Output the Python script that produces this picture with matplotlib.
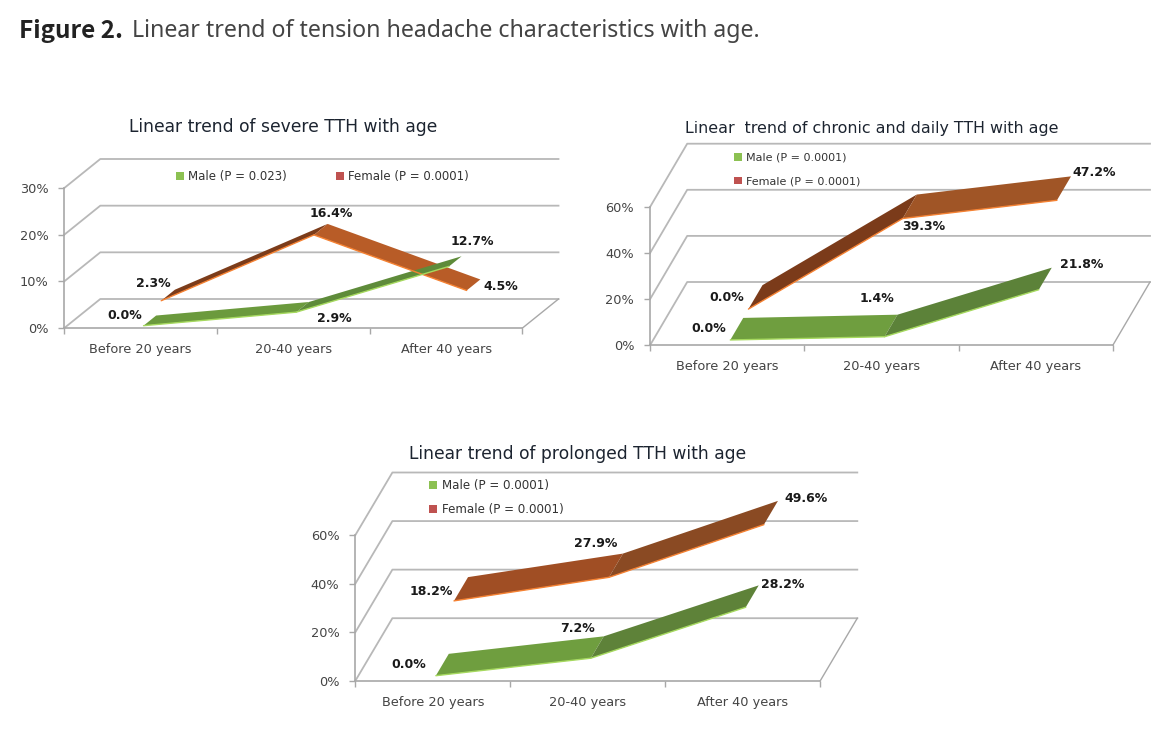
import matplotlib.pyplot as plt
from matplotlib.patches import Patch, Polygon

plt.rcParams["font.family"] = ["DejaVu Sans"]

W, H = 1172, 741

categories = ["Before 20 years", "20-40 years", "After 40 years"]

severe_male = [0.0, 2.9, 12.7]
severe_female = [2.3, 16.4, 4.5]
chronic_male = [0.0, 1.4, 21.8]
chronic_female = [0.0, 39.3, 47.2]
prolonged_male = [0.0, 7.2, 28.2]
prolonged_female = [18.2, 27.9, 49.6]

severe_ticks = [0, 10, 20, 30]
other_ticks = [0, 20, 40, 60]

GRID = "#b8b8b8"
MALE_EDGE = "#a6d95f"
FEMALE_EDGE = "#f58233"
MALE_SWATCH = "#8cc152"
FEMALE_SWATCH = "#bf5250"

# 各子图的布局（像素）：left, right, bottom, top, 进深 dx, dy
panels = [
    {
        "title": "Linear trend of severe TTH with age",
        "title_xy": (282.7, 127),
        "title_size": 12.35,
        "box": (64.3, 522.5, 328, 188),
        "depth": (36, 29),
        "ticks": severe_ticks,
        "male": severe_male,
        "female": severe_female,
        "male_colors": ["#6b9a3d", "#5e8b3a"],
        "female_colors": ["#7c3c1a", "#b85c27"],
        "male_off": [(-15.7, 12.3), (40.6, -4.5), (25.9, 27.7)],
        "female_off": [(12.3, 33.3), (37.6, 37.5), (54.6, 20.3)],
        "legend_labels": ["Male (P = 0.023)", "Female (P = 0.0001)"],
        "legend_xy": (176, 170),
        "legend_size": 8.5,
        "legend_gap": 1.0,
        "ncol": 2,
    },
    {
        "title": "Linear  trend of chronic and daily TTH with age",
        "title_xy": (872, 128),
        "title_size": 11.45,
        "box": (650.2, 1113, 345, 206.7),
        "depth": (37, 63),
        "ticks": other_ticks,
        "male": chronic_male,
        "female": chronic_female,
        "male_colors": ["#6f9e3f", "#5c8239"],
        "female_colors": ["#7b3b1a", "#a05526"],
        "male_off": [(-18.3, 17), (-5.1, 43.1), (45.8, 30.1)],
        "female_off": [(-0.9, 47.3), (42.3, 28.4), (58, 63.9)],
        "legend_labels": ["Male (P = 0.0001)", "Female (P = 0.0001)"],
        "legend_xy": (734, 152.5),
        "legend_size": 8.0,
        "legend_gap": 1.25,
        "ncol": 1,
    },
    {
        "title": "Linear trend of prolonged TTH with age",
        "title_xy": (577.7, 454),
        "title_size": 12.3,
        "box": (355.4, 820.3, 680.7, 535),
        "depth": (37, 62.5),
        "ticks": other_ticks,
        "male": prolonged_male,
        "female": prolonged_female,
        "male_colors": ["#6f9e3f", "#5e8239"],
        "female_colors": ["#a04e24", "#8a4a23"],
        "male_off": [(-23.9, 16), (-10, 35.2), (39.8, 27.9)],
        "female_off": [(-1.2, 44.8), (8.1, 69.7), (63.7, 61.3)],
        "legend_labels": ["Male (P = 0.0001)", "Female (P = 0.0001)"],
        "legend_xy": (429, 479),
        "legend_size": 8.6,
        "legend_gap": 0.93,
        "ncol": 1,
    },
]

fig = plt.figure(figsize=(W / 100, H / 100), dpi=100, facecolor="white")

# 总标题
fig.text(19 / W, 1 - 31 / H, "Figure 2.", fontsize=17.5, fontweight="bold",
         color="#222222", va="center", family=["Noto Sans CJK KR", "DejaVu Sans"])
fig.text(132 / W, 1 - 31 / H, "Linear trend of tension headache characteristics with age.",
         fontsize=16.65, color="#444444", va="center", family=["Noto Sans", "DejaVu Sans"])


def draw_ribbon(ax, values, near, far, colors, edge, ddx, ddy):
    # 一条带状折线，按进深比例 near..far 画
    for i in range(len(values) - 1):
        x0, x1 = i + 0.5, i + 1.5
        y0, y1 = values[i], values[i + 1]
        ax.add_patch(Polygon(
            [(x0 + near * ddx, y0 + near * ddy), (x1 + near * ddx, y1 + near * ddy),
             (x1 + far * ddx, y1 + far * ddy), (x0 + far * ddx, y0 + far * ddy)],
            closed=True, facecolor=colors[i], edgecolor="none", clip_on=False, zorder=3))
        ax.plot([x0 + near * ddx, x1 + near * ddx], [y0 + near * ddy, y1 + near * ddy],
                color=edge, lw=1.0, clip_on=False, zorder=4, solid_capstyle="round")


for p in panels:
    left, right, bottom, top = p["box"]
    ax = fig.add_axes([left / W, 1 - bottom / H, (right - left) / W, (bottom - top) / H])
    ymax = p["ticks"][-1]
    ax.set_xlim(0, 3)
    ax.set_ylim(0, ymax)
    ax.patch.set_alpha(0)

    ddx = p["depth"][0] / (right - left) * 3
    ddy = p["depth"][1] / (bottom - top) * ymax

    # 背景网格
    for t in p["ticks"]:
        ax.plot([0, ddx, 3 + ddx], [t, t + ddy, t + ddy], color=GRID, lw=1.3, clip_on=False, zorder=1)
    ax.plot([3, 3 + ddx], [0, ddy], color="#a8a8a8", lw=1.0, clip_on=False, zorder=1)

    draw_ribbon(ax, p["female"], 0.57, 0.95, p["female_colors"], FEMALE_EDGE, ddx, ddy)
    draw_ribbon(ax, p["male"], 0.08, 0.43, p["male_colors"], MALE_EDGE, ddx, ddy)

    # 数据标签
    for vals, offs in ((p["male"], p["male_off"]), (p["female"], p["female_off"])):
        for i, v in enumerate(vals):
            ax.annotate(f"{v:.1f}%", (i + 0.5, v), xytext=offs[i], textcoords="offset pixels",
                        ha="center", va="center", fontsize=9.0, fontweight="bold",
                        color="#1a1a1a", annotation_clip=False, zorder=6)

    # 坐标轴
    for side in ("top", "right"):
        ax.spines[side].set_visible(False)
    for side in ("left", "bottom"):
        ax.spines[side].set_color("#a8a8a8")
        ax.spines[side].set_linewidth(1.2)
    ax.set_yticks(p["ticks"])
    ax.set_yticklabels([f"{t}%" for t in p["ticks"]], fontsize=9.3, color="#444444")
    ax.set_xticks([0, 1, 2, 3])
    ax.set_xticklabels([])
    ax.set_xticks([0.5, 1.5, 2.5], minor=True)
    ax.set_xticklabels(categories, minor=True, fontsize=9.3, color="#444444")
    ax.tick_params(axis="both", which="major", color="#a8a8a8", length=4, width=1)
    ax.tick_params(axis="y", pad=7.5)
    ax.tick_params(axis="x", which="minor", length=0, pad=11)

    handles = [Patch(facecolor=MALE_SWATCH), Patch(facecolor=FEMALE_SWATCH)]
    ax.legend(handles, p["legend_labels"], ncol=p["ncol"], frameon=False,
              loc="upper left", bbox_to_anchor=(p["legend_xy"][0] / W, 1 - p["legend_xy"][1] / H),
              bbox_transform=fig.transFigure, fontsize=p["legend_size"], labelcolor="#333333",
              handlelength=0.7, handleheight=0.7, handletextpad=0.35,
              columnspacing=4.1, labelspacing=p["legend_gap"], borderpad=0, borderaxespad=0)

    fig.text(p["title_xy"][0] / W, 1 - p["title_xy"][1] / H, p["title"], ha="center", va="center",
             fontsize=p["title_size"], color="#1c2430")

fig.savefig("out.png", dpi=100)
